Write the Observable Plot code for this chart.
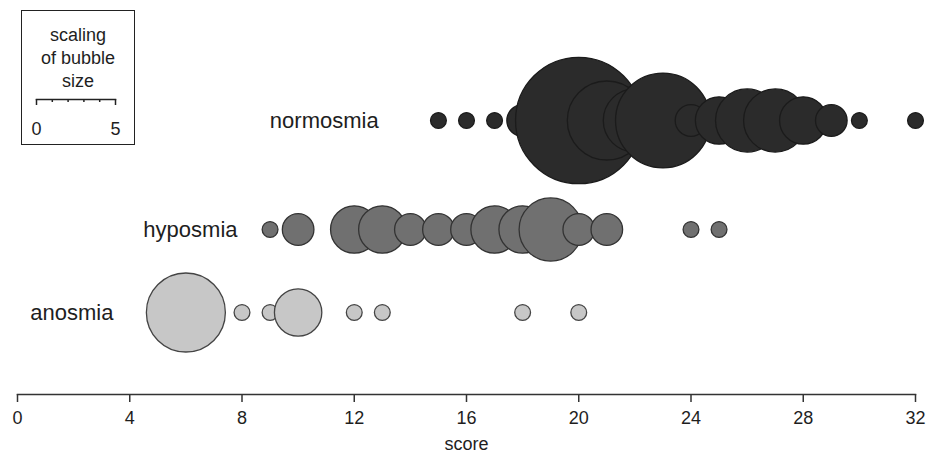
<!DOCTYPE html>
<html>
<head>
<meta charset="utf-8">
<script src="https://cdn.jsdelivr.net/npm/d3@7"></script>
<script src="https://cdn.jsdelivr.net/npm/@observablehq/plot@0.6"></script>
<style>
  html, body { margin: 0; padding: 0; background: #fff; }
  #wrap { position: relative; width: 937px; height: 454px; font-family: "Liberation Sans", Arial, sans-serif; color: #1e1e1e; }
  #legend { position: absolute; left: 21px; top: 10px; width: 114px; height: 135px; box-sizing: border-box; border: 1.5px solid #222; }
  #legend .t { position: absolute; left: 0; right: 0; text-align: center; font-size: 18px; line-height: 23px; top: 13px; }
  #legendAxis { position: absolute; left: 21px; top: 89px; }
</style>
</head>
<body>
<div id="wrap">
  <div id="chart"></div>
  <div id="legend"><div class="t">scaling<br>of bubble<br>size</div></div>
  <div id="legendAxis"></div>
</div>
<script>
// ---- data ----
const groups = ["normosmia", "hyposmia", "anosmia"];

const normosmiaScore = [15, 16, 17, 18, 20, 21, 22, 23, 24, 25, 26, 27, 28, 29, 30, 32];
const normosmiaN     = [ 1,  1,  1,  2,  8,  5,  4,  6,  2,  3,  4,  4,  3,  2,  1,  1];

const hyposmiaScore  = [9, 10, 12, 13, 14, 15, 16, 17, 18, 19, 20, 21, 24, 25];
const hyposmiaN      = [1,  2,  3,  3,  2,  2,  2,  3,  3,  4,  2,  2,  1,  1];

const anosmiaScore   = [6, 8, 9, 10, 12, 13, 18, 20];
const anosmiaN       = [5, 1, 1,  3,  1,  1,  1,  1];

const labelAt = [12.87, 7.84, 3.42];           // score where each row label ends
const xTicks = [0, 4, 8, 12, 16, 20, 24, 28, 32];
const sizeTicks = [0, 1, 2, 3, 4, 5];

// ---- build tables ----
const rowsOf = (g, s, n) => s.map((v, i) => ({group: g, score: v, n: n[i]}));
const rows = {
  normosmia: rowsOf("normosmia", normosmiaScore, normosmiaN),
  hyposmia: rowsOf("hyposmia", hyposmiaScore, hyposmiaN),
  anosmia: rowsOf("anosmia", anosmiaScore, anosmiaN)
};
const fills = {normosmia: "#2b2b2b", hyposmia: "#707070", anosmia: "#c7c7c7"};
const strokes = {normosmia: "#1b1b1b", hyposmia: "#333333", anosmia: "#444444"};
const labels = groups.map((g, i) => ({group: g, at: labelAt[i]}));

const unitDiameter = 15.8;  // px of bubble diameter per unit

const chart = Plot.plot({
  width: 937,
  height: 454,
  marginLeft: 17,
  marginRight: 22,
  marginTop: 0,
  marginBottom: 60,
  style: {fontFamily: "'Liberation Sans', Arial, sans-serif", fontSize: "18px", color: "#1e1e1e", background: "white"},
  x: {domain: [0, 32], axis: null},
  y: {type: "ordinal", domain: groups, range: [120, 229, 312], axis: null},
  r: {type: "linear", domain: [0, 5], range: [0, 2.5 * unitDiameter]},
  marks: [
    Plot.frame({anchor: "bottom", stroke: "#333", strokeWidth: 1.5}),
    Plot.axisX({ticks: xTicks, tickSize: 8, tickPadding: 9, stroke: "#333", strokeWidth: 1.5,
      fontSize: 18, label: "score", labelAnchor: "center", labelArrow: "none", labelOffset: 55}),
    ...groups.map(g => Plot.dot(rows[g], {x: "score", y: "group", r: "n", fill: fills[g], stroke: strokes[g], strokeWidth: 1.3, sort: null})),
    Plot.text(labels, {x: "at", y: "group", text: "group", textAnchor: "end", fontSize: 22, fill: "#1e1e1e"})
  ]
});
document.getElementById("chart").appendChild(chart);

const legendAxis = Plot.plot({
  width: 114,
  height: 48,
  marginLeft: 15,
  marginRight: 114 - 15 - 5 * unitDiameter,
  marginTop: 0,
  marginBottom: 38,
  style: {fontFamily: "'Liberation Sans', Arial, sans-serif", fontSize: "18px", color: "#1e1e1e", background: "transparent", overflow: "visible"},
  x: {domain: [0, 5], axis: null},
  marks: [
    Plot.frame({anchor: "bottom", stroke: "#222", strokeWidth: 1.5}),
    Plot.axisX(sizeTicks.filter(d => d > 0 && d < 5), {tickSize: 3, tickFormat: () => "", stroke: "#222", strokeWidth: 1.5, label: null}),
    Plot.axisX(sizeTicks.filter(d => d === 0 || d === 5), {tickSize: 6, tickPadding: 17, stroke: "#222", strokeWidth: 1.5, fontSize: 18, label: null})
  ]
});
document.getElementById("legendAxis").appendChild(legendAxis);
</script>
</body>
</html>
